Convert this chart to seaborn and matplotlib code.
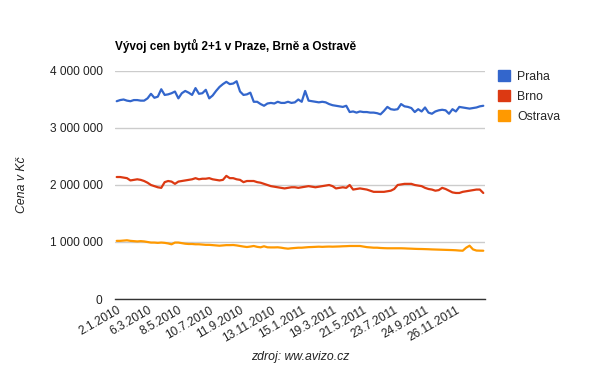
import pandas as pd
import matplotlib
matplotlib.use("Agg")
import matplotlib.pyplot as plt
import matplotlib.ticker as mticker
from matplotlib.patches import Patch
import seaborn as sns

# weekly prices (in millions CZK), 2.1.2010 onwards
praha = [3.47, 3.49, 3.50, 3.48, 3.47, 3.49, 3.49, 3.48, 3.48, 3.52,
         3.60, 3.53, 3.55, 3.68, 3.58, 3.59, 3.61, 3.64, 3.52, 3.61,
         3.65, 3.62, 3.58, 3.70, 3.60, 3.61, 3.67, 3.52, 3.57, 3.65,
         3.72, 3.77, 3.81, 3.77, 3.78, 3.82, 3.64, 3.58, 3.59, 3.62,
         3.46, 3.46, 3.42, 3.39, 3.43, 3.44, 3.43, 3.46, 3.44, 3.44,
         3.46, 3.44, 3.45, 3.50, 3.46, 3.65, 3.48, 3.47, 3.46, 3.45,
         3.46, 3.45, 3.42, 3.40, 3.39, 3.38, 3.37, 3.39, 3.28, 3.29,
         3.27, 3.29, 3.28, 3.28, 3.27, 3.27, 3.26, 3.24, 3.30, 3.37,
         3.33, 3.32, 3.33, 3.42, 3.38, 3.37, 3.35, 3.28, 3.33, 3.29,
         3.36, 3.27, 3.25, 3.29, 3.31, 3.32, 3.31, 3.25, 3.33, 3.29,
         3.37, 3.36, 3.35, 3.34, 3.35, 3.36, 3.38, 3.39]
brno = [2.14, 2.14, 2.13, 2.12, 2.08, 2.09, 2.10, 2.09, 2.07, 2.04,
        2.00, 1.98, 1.96, 1.95, 2.05, 2.07, 2.06, 2.02, 2.06, 2.07,
        2.08, 2.09, 2.10, 2.12, 2.10, 2.11, 2.11, 2.12, 2.10, 2.09,
        2.08, 2.09, 2.16, 2.12, 2.12, 2.10, 2.09, 2.05, 2.07, 2.07,
        2.07, 2.05, 2.04, 2.02, 2.00, 1.98, 1.97, 1.96, 1.95, 1.94,
        1.95, 1.96, 1.96, 1.95, 1.96, 1.97, 1.98, 1.97, 1.96, 1.97,
        1.98, 1.99, 2.00, 1.98, 1.94, 1.95, 1.96, 1.95, 2.00, 1.92,
        1.93, 1.94, 1.93, 1.92, 1.90, 1.88, 1.88, 1.88, 1.88, 1.89,
        1.90, 1.93, 2.00, 2.01, 2.02, 2.02, 2.02, 2.00, 1.99, 1.98,
        1.95, 1.93, 1.92, 1.90, 1.91, 1.95, 1.93, 1.90, 1.87, 1.86,
        1.86, 1.88, 1.89, 1.90, 1.91, 1.92, 1.92, 1.86]
ostrava = [1.020, 1.020, 1.025, 1.030, 1.020, 1.015, 1.010, 1.015, 1.010, 1.000,
           0.990, 0.990, 0.985, 0.990, 0.985, 0.975, 0.960, 0.990, 0.990, 0.980,
           0.970, 0.965, 0.965, 0.960, 0.960, 0.955, 0.950, 0.950, 0.945, 0.940,
           0.935, 0.940, 0.945, 0.945, 0.947, 0.940, 0.930, 0.920, 0.912, 0.920,
           0.930, 0.915, 0.907, 0.925, 0.907, 0.905, 0.905, 0.907, 0.900, 0.890,
           0.883, 0.890, 0.895, 0.900, 0.900, 0.905, 0.910, 0.912, 0.915, 0.918,
           0.915, 0.918, 0.920, 0.918, 0.920, 0.922, 0.925, 0.927, 0.930, 0.930,
           0.930, 0.930, 0.920, 0.910, 0.905, 0.900, 0.900, 0.895, 0.892, 0.890,
           0.890, 0.890, 0.890, 0.890, 0.888, 0.885, 0.883, 0.880, 0.878, 0.877,
           0.875, 0.873, 0.870, 0.868, 0.866, 0.864, 0.862, 0.860, 0.858, 0.855,
           0.850, 0.847, 0.900, 0.935, 0.870, 0.850, 0.848, 0.847]

mesta = ["Praha", "Brno", "Ostrava"]
barvy = ["#3366cc", "#dc3912", "#ff9900"]
popisky = ["2.1.2010", "6.3.2010", "8.5.2010", "10.7.2010", "11.9.2010",
           "13.11.2010", "15.1.2011", "19.3.2011", "21.5.2011", "23.7.2011",
           "24.9.2011", "26.11.2011"]

rows = []
for m, vals in zip(mesta, [praha, brno, ostrava]):
    for i, v in enumerate(vals):
        rows.append({"tyden": i, "cena": v * 1e6, "mesto": m})
df = pd.DataFrame(rows)

sns.set_style("white")
plt.rcParams["font.family"] = ["Liberation Sans", "DejaVu Sans"]

fig = plt.figure(figsize=(6, 3.71), dpi=100)
ax = fig.add_axes([115 / 600, 1 - 299 / 371, 370 / 600, 228 / 371])

sns.lineplot(data=df, x="tyden", y="cena", hue="mesto", palette=barvy,
             linewidth=1.6, ax=ax, legend=False)

ax.set_xlim(-0.5, len(praha) - 0.5)
ax.set_ylim(0, 4e6)
ax.set_yticks([0, 1e6, 2e6, 3e6, 4e6])
ax.yaxis.set_major_formatter(mticker.FuncFormatter(lambda v, p: f"{int(v):,}".replace(",", " ")))
ax.grid(axis="y", color="#cccccc", linewidth=1)
ax.set_axisbelow(True)
for s in ["left", "right", "top"]:
    ax.spines[s].set_visible(False)
ax.spines["bottom"].set_color("#333333")
ax.spines["bottom"].set_linewidth(1)

ax.set_xticks(list(range(0, 9 * len(popisky), 9)))
ax.set_xticklabels(popisky, rotation=30, ha="right", rotation_mode="anchor")
ax.tick_params(axis="both", length=0, labelsize=8.6, colors="#222222")
ax.tick_params(axis="y", pad=9)
ax.tick_params(axis="x", pad=4)
ax.set_xlabel("")
ax.set_ylabel("")

fig.text(115 / 600, 1 - 46 / 371, "Vývoj cen bytů 2+1 v Praze, Brně a Ostravě",
         fontsize=8.5, fontweight="bold", ha="left", va="center", color="#000000")
fig.text(22 / 600, 1 - 185 / 371, "Cena v Kč", rotation=90, fontsize=8.8,
         style="italic", ha="center", va="center", color="#222222")
fig.text(300 / 600, 1 - 357 / 371, "zdroj: ww.avizo.cz", fontsize=8.8,
         style="italic", ha="center", va="center", color="#222222")

handles = [Patch(facecolor=c, edgecolor=c) for c in barvy]
fig.legend(handles, mesta, loc="upper left", bbox_to_anchor=(498 / 600, 1 - 70 / 371),
           frameon=False, fontsize=8.8, handlelength=1.0, handleheight=1.0,
           handletextpad=0.55, labelspacing=0.6, borderaxespad=0, borderpad=0)

fig.savefig("out.png", dpi=100, facecolor="white")
